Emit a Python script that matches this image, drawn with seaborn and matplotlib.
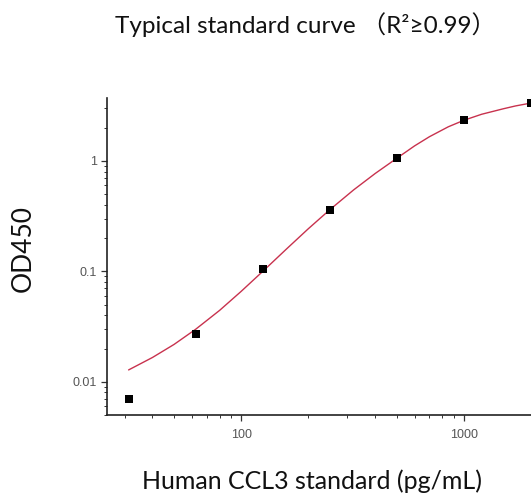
import numpy as np
import pandas as pd
import matplotlib
matplotlib.use("Agg")
import matplotlib.pyplot as plt
import matplotlib.ticker as mticker
import seaborn as sns

sns.set_theme(style="ticks")
plt.rcParams["font.family"] = ["Liberation Sans", "DejaVu Sans"]

# standard points
conc = [31.25, 62.5, 125, 250, 500, 1000, 2000]
od450 = [0.0070, 0.027, 0.104, 0.36, 1.06, 2.35, 3.35]

# fitted curve
fit_conc = [31.25, 40, 50, 62.5, 80, 100, 125, 160, 200, 250, 320, 400,
            500, 600, 700, 850, 1000, 1200, 1500, 1700, 2000]
fit_od = [0.0128, 0.0166, 0.0218, 0.0299, 0.0443, 0.0659, 0.100, 0.160,
          0.243, 0.362, 0.548, 0.772, 1.06, 1.37, 1.66, 2.04, 2.34, 2.65,
          2.97, 3.15, 3.35]

pts = pd.DataFrame({"conc": conc, "od": od450})
fit = pd.DataFrame({"conc": fit_conc, "od": fit_od})

fig = plt.figure(figsize=(5.31, 4.97), dpi=100)
ax = fig.add_axes([107 / 531, 82 / 497, 433 / 531, 317 / 497])

sns.lineplot(data=fit, x="conc", y="od", ax=ax, color="#c8324e", linewidth=1.0)
sns.scatterplot(data=pts, x="conc", y="od", ax=ax, marker="s", color="black",
                s=38, edgecolor="black", linewidth=0, zorder=3, clip_on=True)

ax.set_xscale("log")
ax.set_yscale("log")
ax.set_xlim(25, 2193)
ax.set_ylim(0.005, 3.72)

ax.spines["top"].set_visible(False)
ax.spines["right"].set_visible(False)
for sp in ["left", "bottom"]:
    ax.spines[sp].set_linewidth(1.2)
    ax.spines[sp].set_color("#222222")

ax.xaxis.set_major_formatter(mticker.FuncFormatter(lambda v, p: f"{v:g}"))
ax.yaxis.set_major_formatter(mticker.FuncFormatter(lambda v, p: f"{v:g}"))
ax.tick_params(which="major", length=4, width=0.9, labelsize=9,
               labelcolor="#555555", color="#333333")
ax.tick_params(which="minor", length=2, width=0.7, color="#333333")
ax.tick_params(axis="x", which="major", pad=6)

ax.set_xlabel("")
ax.set_ylabel("")

fig.text(305 / 531, 1 - 33 / 497, "Typical standard curve （R²≥0.99）",
         ha="center", va="baseline", fontsize=17.5,
         family=["Lato", "Noto Sans CJK SC"], color="#111111")
fig.text(23 / 531, 1 - 248 / 497, "OD450", rotation=90, ha="center",
         va="center", fontsize=19, family=["Lato"], color="#111111")
fig.text(312 / 531, 1 - 489 / 497, "Human CCL3 standard (pg/mL)",
         ha="center", va="baseline", fontsize=18,
         family=["Lato"], color="#111111")

fig.savefig("out.png", dpi=100)
